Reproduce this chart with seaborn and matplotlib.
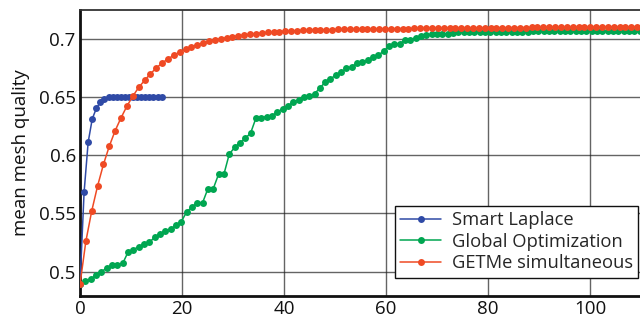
import numpy as np
import pandas as pd
import matplotlib
matplotlib.use("Agg")
import matplotlib.pyplot as plt
import seaborn as sns

# ---- data ----
laplace_step = 0.8
laplace = [0.489, 0.568, 0.611, 0.631, 0.640, 0.6455, 0.6485, 0.6495, 0.6498, 0.650,
           0.650, 0.650, 0.650, 0.650, 0.650, 0.650, 0.650, 0.650, 0.650, 0.650, 0.650]

global_step = 1.045
global_opt = [0.489, 0.492, 0.4936, 0.497, 0.500, 0.5028, 0.5054, 0.506, 0.5069, 0.5165,
              0.5187, 0.5213, 0.5236, 0.525, 0.5294, 0.5322, 0.5351, 0.5365, 0.5397, 0.5428,
              0.5511, 0.5554, 0.5591, 0.5591, 0.5711, 0.5711, 0.5835, 0.5835, 0.6007, 0.6065,
              0.6106, 0.6144, 0.6187, 0.6316, 0.6321, 0.633, 0.6336, 0.6368, 0.6396, 0.6422,
              0.6454, 0.6476, 0.650, 0.6508, 0.6526, 0.6575, 0.6626, 0.6657, 0.6683, 0.6712,
              0.6743, 0.6758, 0.6789, 0.6801, 0.6812, 0.6838, 0.6861, 0.6889, 0.6938, 0.6953,
              0.6955, 0.699, 0.699, 0.7007, 0.7024, 0.7032, 0.7035, 0.7036, 0.7038, 0.7043,
              0.7046, 0.7052, 0.7055, 0.7056, 0.7057, 0.7058, 0.7059, 0.706, 0.706, 0.706,
              0.706, 0.706, 0.706, 0.706, 0.706, 0.7061, 0.7061, 0.7061, 0.7061, 0.7061,
              0.7061, 0.7061, 0.7062, 0.7062, 0.7062, 0.7062, 0.7062, 0.7062, 0.7062, 0.7062,
              0.7062, 0.7062, 0.7062, 0.7062, 0.7062, 0.7062]

getme_step = 1.15
getme = [0.489, 0.526, 0.552, 0.5735, 0.592, 0.6077, 0.621, 0.632, 0.642, 0.6505,
         0.658, 0.664, 0.6697, 0.6747, 0.679, 0.6825, 0.6856, 0.6885, 0.691, 0.6928,
         0.6948, 0.6962, 0.6976, 0.6988, 0.6998, 0.7008, 0.7016, 0.7024, 0.703, 0.7036,
         0.7042, 0.7047, 0.7052, 0.7056, 0.706, 0.7063, 0.7066, 0.7068, 0.707, 0.7072,
         0.7074, 0.7075, 0.7076, 0.7077, 0.7078, 0.7079, 0.708, 0.708, 0.7081, 0.7082,
         0.7082, 0.7083, 0.7084, 0.7084, 0.7085, 0.7086, 0.7086, 0.7087, 0.7087, 0.7088,
         0.7088, 0.7089, 0.7089, 0.709, 0.709, 0.709, 0.7091, 0.7091, 0.7092, 0.7092,
         0.7092, 0.7093, 0.7093, 0.7093, 0.7094, 0.7094, 0.7094, 0.7095, 0.7095, 0.7095,
         0.7096, 0.7096, 0.7096, 0.7097, 0.7097, 0.7097, 0.7098, 0.7098, 0.7098, 0.7099,
         0.7099, 0.7099, 0.7099, 0.71, 0.71, 0.71]

labels = ["Smart Laplace", "Global Optimization", "GETMe simultaneous"]
colors = ["#2f4aa6", "#00a651", "#ef4a24"]
x_ticks = [0, 20, 40, 60, 80, 100]
y_ticks = [0.5, 0.55, 0.6, 0.65, 0.7]
y_tick_labels = ["0.5", "0.55", "0.6", "0.65", "0.7"]

sns.set_theme(style="white")
plt.rcParams["font.family"] = ["Open Sans", "DejaVu Sans"]

fig = plt.figure(figsize=(6.4, 3.23), dpi=100)
ax = fig.add_axes([0.125, 0.0836, 0.875, 0.8854])

series = [(laplace, laplace_step), (global_opt, global_step), (getme, getme_step)]
for (vals, step), lab, col in zip(series, labels, colors):
    xs = np.arange(len(vals)) * step
    sns.lineplot(x=xs, y=vals, ax=ax, color=col, label=lab, marker="o",
                 markersize=5, markeredgewidth=0, linewidth=1.1, zorder=3)

ax.set_xlim(0, 109.8)
ax.set_ylim(0.479, 0.7245)
ax.set_xticks(x_ticks)
ax.set_yticks(y_ticks)
ax.set_yticklabels(y_tick_labels)
ax.grid(True, color="#222222", linewidth=1.0, alpha=0.7)
ax.tick_params(axis="both", length=0, labelsize=13.5, pad=3, colors="#111111")
ax.set_xlabel("")
ax.set_ylabel("mean mesh quality", fontsize=13.5, color="#111111", labelpad=6)

for side in ["left", "bottom"]:
    ax.spines[side].set_visible(True)
    ax.spines[side].set_color("#111111")
    ax.spines[side].set_linewidth(2.0)
ax.spines["top"].set_color("#333333")
ax.spines["top"].set_linewidth(1.3)
ax.spines["right"].set_visible(False)

leg = ax.legend(loc="lower right", bbox_to_anchor=(0.997, 0.063), borderaxespad=0,
                fontsize=13.2, frameon=True, fancybox=False, handlelength=2.2,
                handletextpad=0.6, labelspacing=0.2, borderpad=0.3)
leg.get_frame().set_edgecolor("#111111")
leg.get_frame().set_linewidth(1.0)
leg.get_frame().set_alpha(1.0)

fig.savefig("out.png", dpi=100)
